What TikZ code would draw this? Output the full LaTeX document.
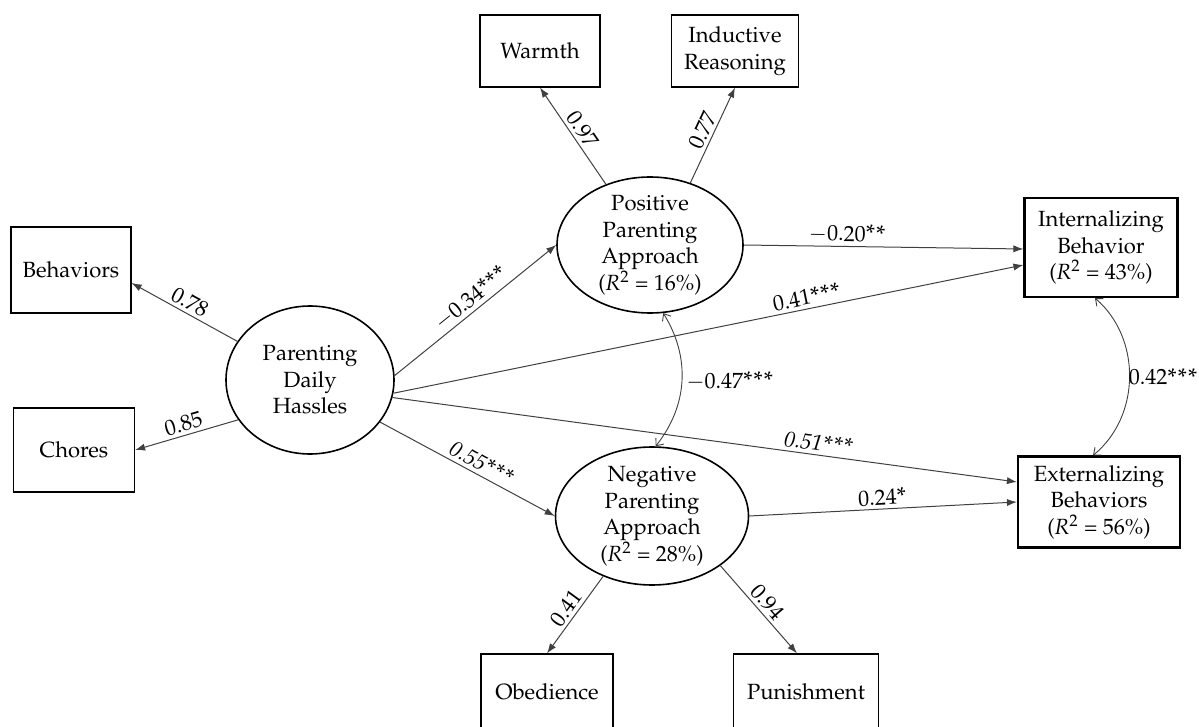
\documentclass[tikz,border=0pt]{standalone}
\usepackage[T1]{fontenc}
\usepackage{mathpazo}
\usepackage{graphicx}
\usetikzlibrary{arrows.meta,shapes.geometric}
\newcommand{\sst}{\raisebox{-0.3pt}{\scalebox{1.1}{*}}\kern0.4pt}
\begin{document}
\begin{tikzpicture}[x=0.5pt,y=-0.5pt,
  every node/.style={font=\fontsize{11}{13.3}\selectfont},
  obsbox/.style={draw=black, line width=0.6pt, rectangle, align=center, inner sep=0pt},
  thickbox/.style={obsbox, line width=1.1pt},
  latent/.style={draw=black, line width=0.8pt, ellipse, inner sep=0pt},
  arr/.style={draw=black!75, line width=0.5pt, -{Latex[length=5pt,width=3.6pt]}},
  cov/.style={draw=black!75, line width=0.45pt, {Straight Barb[length=3pt,width=5pt]}-{Straight Barb[length=3pt,width=5pt]}},
  lab/.style={sloped, above, inner sep=1.5pt}
]
\path[use as bounding box] (0,0) rectangle (1199,727);
\clip (0,0) rectangle (1199,727);

\node[obsbox, minimum width=60pt, minimum height=36pt] (warmth) at (540,51) {Warmth};
\node[obsbox, minimum width=63.5pt, minimum height=36pt] (induct) at (735,51) {Inductive\\Reasoning};
\node[obsbox, minimum width=60pt, minimum height=43pt] (beh) at (71,270) {Behaviors};
\node[obsbox, minimum width=60.5pt, minimum height=42pt] (chores) at (74,450) {Chores};
\node[latent, minimum width=84pt, minimum height=74pt,
  label={[align=center]center:Parenting\\Daily\\Hassles}] (pdh) at (310,380) {};
\node[latent, minimum width=93pt, minimum height=68pt,
  label={[align=center]center:Positive\\Parenting\\Approach\\(\textit{R}\textsuperscript{2} = 16\%)}] (pos) at (650,245) {};
\node[latent, minimum width=96.5pt, minimum height=69pt,
  label={[align=center]center:Negative\\Parenting\\Approach\\(\textit{R}\textsuperscript{2} = 28\%)}] (neg) at (652,516) {};
\node[thickbox, minimum width=76.5pt, minimum height=49.5pt] (int) at (1101,247.5) {Internalizing\\Behavior\\(\textit{R}\textsuperscript{2} = 43\%)};
\node[thickbox, minimum width=81pt, minimum height=45.5pt] (ext) at (1099,502) {Externalizing\\Behaviors\\(\textit{R}\textsuperscript{2} = 56\%)};
\node[obsbox, minimum width=66pt, minimum height=38pt] (obed) at (547,692) {Obedience};
\node[obsbox, minimum width=72.5pt, minimum height=38pt] (pun) at (806,692) {Punishment};

\draw[arr] (pdh.152) -- node[lab]{0.78} ([yshift=-6.5pt]beh.east);
\draw[arr] (pdh.209) -- node[lab]{0.85} (chores.east);
\draw[arr] (pdh.3) -- node[lab,pos=0.52]{$-$0.34\sst\sst\sst} (pos.west);
\draw[arr] (pdh.-9) -- node[lab,pos=0.66]{0.41\sst\sst\sst} ([yshift=-8.75pt]int.west);
\draw[arr] (pdh.-12) -- node[lab,pos=0.68]{\textit{0.51\sst\sst\sst}} ([yshift=10pt]ext.west);
\draw[arr] (pdh.-31) -- node[lab,pos=0.55]{\textit{0.55\sst\sst\sst}} (neg.west);
\draw[arr] (pos.126) -- node[lab]{0.97} (warmth.south);
\draw[arr] (pos.57) -- node[lab]{0.77} (induct.south);
\draw[arr] (pos.east) -- node[lab,pos=0.37]{$-$0.20\sst\sst} ([yshift=-0.75pt]int.west);
\draw[arr] (neg.east) -- node[lab]{0.24\sst} (ext.west);
\draw[arr] (neg.231) -- node[lab]{0.41} (obed.north);
\draw[arr] (neg.-36) -- node[lab]{0.94} ([xshift=-4.5pt]pun.north);
\draw[cov] (pos.-79) to[bend left=35] node[right, inner sep=2pt]{$-$0.47\sst\sst\sst} (neg.87);
\draw[cov] ([xshift=-3pt]int.south) to[bend left=50] node[right, inner sep=0.5pt, xshift=-1pt]{0.42\sst\sst\sst} ([xshift=-3pt]ext.north);
\end{tikzpicture}
\end{document}
